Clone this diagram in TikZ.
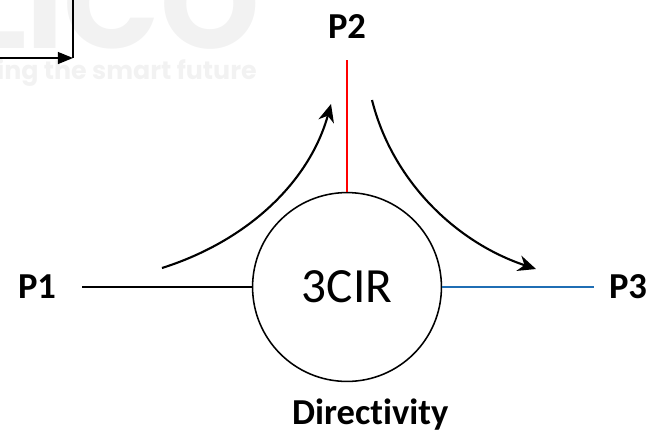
\documentclass[tikz,border=0pt]{standalone}
\usepackage{fontspec}
\setmainfont{Carlito}[Ligatures=NoCommon]
\newfontfamily\markfont{Poppins}
\usetikzlibrary{positioning,arrows.meta}

\begin{document}
\begin{tikzpicture}[
    x=0.025cm, y=-0.025cm,
    port/.style={font=\fontsize{26}{30}\selectfont\bfseries},
    cirnode/.style={circle, draw, line width=1.1pt, minimum size=4.72cm, inner sep=0pt, font=\fontsize{35}{40}\selectfont},
    flow/.style={-{Stealth[length=0.45cm,width=0.4cm]}, line width=1.5pt},
    wire/.style={line width=1.6pt},
    watermark/.style={text=black!5, inner sep=0pt}
]
\useasboundingbox (0,0) rectangle (648,437);
\begin{scope}
\clip (0,0) rectangle (648,437);
% faint watermark
\node[watermark, font=\markfont\fontsize{90}{90}\selectfont\bfseries, anchor=base east] (logo) at (260,48) {LICO};
\node[watermark, font=\markfont\fontsize{18}{22}\selectfont\bfseries, anchor=base east] (slogan) at (257,79) {ing the smart future};
% cut-off connector in the corner
\coordinate (cornera) at (-5,58);
\coordinate (cornerb) at (73,58);
\coordinate (cornerc) at (73,-5);
\draw[-{Triangle[length=0.38cm,width=0.3cm]}, line width=1pt] (cornera) -- (cornerb);
\draw[line width=1pt] (cornerc) -- (cornerb);
\end{scope}

\node[cirnode] (cir) at (347,287) {3CIR};
\node[port] (p1) at (37,287) {P1};
\node[port] (p2) at (347,27) {P2};
\node[port] (p3) at (628,287) {P3};
\node[port, below=0.3cm of cir, xshift=0.58cm] (dir) {Directivity};

\coordinate (p1end) at (82,287);
\coordinate (p2end) at (347,60);
\coordinate (p3end) at (594,287);
\draw[wire] (p1end) -- (cir.west);
\draw[wire, red] (p2end) -- (cir.north);
\draw[wire, color={rgb,255:red,31;green,110;blue,180}] (cir.east) -- (p3end);

\coordinate (inl) at (162,268);
\coordinate (outl) at (331,104);
\coordinate (inr) at (372,100);
\coordinate (outr) at (536,269);
\draw[flow] (inl) .. controls (250,240) and (310,180) .. (outl);
\draw[flow] (inr) .. controls (392,180) and (455,242) .. (outr);
\end{tikzpicture}
\end{document}
